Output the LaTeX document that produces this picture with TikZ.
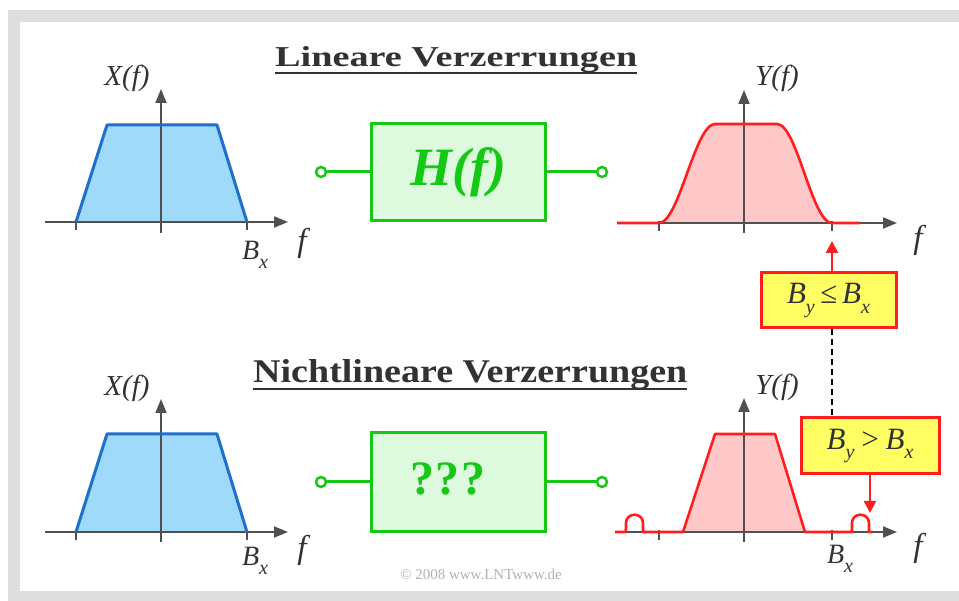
\documentclass[tikz,border=0pt]{standalone}
\usepackage{fontspec}
\setmainfont{Liberation Serif}
\usepackage{graphicx}
\usetikzlibrary{arrows.meta}
\definecolor{axisgray}{RGB}{80,80,80}
\definecolor{txtgray}{RGB}{50,50,50}
\definecolor{bline}{RGB}{30,112,204}
\definecolor{bfill}{RGB}{160,218,250}
\definecolor{rline}{RGB}{255,30,30}
\definecolor{rfill}{RGB}{255,200,200}
\definecolor{gline}{RGB}{20,200,20}
\definecolor{gfill}{RGB}{222,250,222}
\definecolor{ybox}{RGB}{255,255,100}
\definecolor{framegray}{RGB}{222,222,222}
\tikzset{
  axis/.style={draw=axisgray,line width=2pt,-{Triangle[length=14pt,width=11pt]}},
  tickmark/.style={draw=axisgray,line width=1.6pt},
  vaxis/.style={draw=axisgray,line width=2pt,-{Triangle[length=14pt,width=11pt]}},
  bcurve/.style={draw=bline,line width=3pt,line join=round},
  rcurve/.style={draw=rline,line width=2.6pt,line join=round},
  lbl/.style={inner sep=0pt,text=txtgray,font=\fontsize{29}{30}\selectfont\itshape},
  flbl/.style={inner sep=0pt,text=txtgray,font=\fontsize{33}{34}\selectfont\itshape},
  bxlbl/.style={inner sep=0pt,text=txtgray,font=\fontsize{28}{30}\selectfont\itshape},
  gbox/.style={draw=gline,fill=gfill,line width=3pt,minimum width=174pt,minimum height=97pt,inner sep=0pt,text=gline},
  term/.style={circle,draw=gline,fill=white,line width=2.5pt,minimum size=10pt,inner sep=0pt},
  gwire/.style={draw=gline,line width=3pt},
  ybx/.style={draw=rline,fill=ybox,line width=3pt,inner sep=0pt,text=txtgray,font=\fontsize{31}{32}\selectfont\itshape},
  rarrow/.style={draw=rline,line width=2.5pt,-{Triangle[length=12pt,width=12pt]}},
  titl/.style={inner sep=0pt,anchor=base west,text=txtgray},
  uline/.style={draw=txtgray,line width=2.2pt},
}
\newcommand{\Bsub}[1]{B\raisebox{-0.3em}{\fontsize{20}{20}\selectfont #1}}
\begin{document}
\begin{tikzpicture}[x=1pt,y=-1pt]
\useasboundingbox (0,0) rectangle (959,601);
\fill[white] (0,0) rectangle (959,601);
\fill[framegray] (8,10) rectangle (959,601);
\fill[white] (20,22) rectangle (959,591);

% titles
\node[titl] (t1) at (275,67) {\resizebox{362pt}{20pt}{\bfseries Lineare Verzerrungen}};
\draw[uline] ([yshift=-6pt]t1.base west) -- ([yshift=-6pt]t1.base east);
\node[titl] (t2) at (253,383) {\resizebox{434pt}{23pt}{\bfseries Nichtlineare Verzerrungen}};
\draw[uline] ([yshift=-6pt]t2.base west) -- ([yshift=-6pt]t2.base east);

% ===== top left X(f)
\fill[bfill] (76,222) -- (107,125) -- (217,125) -- (247,222) -- cycle;
\draw[axis] (45,222) -- (288,222);
\draw[vaxis] (161,233) -- (161,89);
\draw[tickmark] (76,220) -- (76,230);
\draw[tickmark] (247,220) -- (247,230);
\draw[bcurve] (76,222) -- (107,125) -- (217,125) -- (247,222);
\node[lbl] (xl1) at (127,78) {X(f)};
\node[flbl] (fl1) at (302,243) {f};
\node[bxlbl] (bx1) at (255,255) {\Bsub{x}};

% ===== bottom left X(f)
\fill[bfill] (76,532) -- (107,434) -- (217,434) -- (247,532) -- cycle;
\draw[axis] (45,532) -- (288,532);
\draw[vaxis] (161,542) -- (161,399);
\draw[tickmark] (76,530) -- (76,540);
\draw[tickmark] (247,530) -- (247,540);
\draw[bcurve] (76,532) -- (107,434) -- (217,434) -- (247,532);
\node[lbl] (xl2) at (127,388) {X(f)};
\node[flbl] (fl2) at (302,550) {f};
\node[bxlbl] (bx2) at (255,561) {\Bsub{x}};

% ===== green blocks
\node[gbox,font=\fontsize{54}{56}\selectfont\bfseries\itshape] (h1) at (458,172) {H(f)};
\node[term] (i1) at (321,172) {};
\node[term] (o1) at (602,172) {};
\draw[gwire] (i1) -- (h1.west);
\draw[gwire] (h1.east) -- (o1);

\node[gbox,minimum height=98pt] (h2) at (458,482) {};
\node[inner sep=0pt,text=gline,font=\fontsize{48}{50}\selectfont\bfseries] (q2) at ([xshift=-10pt,yshift=3pt]h2.center) {?\kern2pt?\kern2pt?};
\node[term] (i2) at (321,482) {};
\node[term] (o2) at (602,482) {};
\draw[gwire] (i2) -- (h2.west);
\draw[gwire] (h2.east) -- (o2);

% ===== top right Y(f)
\fill[rfill] (659,223) .. controls (679,223) and (695,124) .. (715,124) -- (777,124)
   .. controls (797,124) and (812,223) .. (832,223) -- cycle;
\draw[axis] (617,223) -- (897,223);
\draw[vaxis] (744,233) -- (744,90);
\draw[tickmark] (659,221) -- (659,231);
\draw[tickmark] (832,221) -- (832,231);
\draw[rcurve] (617,223) -- (659,223) .. controls (679,223) and (695,124) .. (715,124) -- (777,124)
   .. controls (797,124) and (812,223) .. (832,223) -- (860,223);
\node[lbl] (yl1) at (777,78) {Y(f)};
\node[flbl] (fl3) at (918,240) {f};

% ===== bottom right Y(f)
\fill[rfill] (683,532) -- (715,434) -- (775,434) -- (805,532) -- cycle;
\draw[axis] (615,532) -- (897,532);
\draw[vaxis] (744,542) -- (744,398);
\draw[tickmark] (659,530) -- (659,540);
\draw[tickmark] (832,530) -- (832,540);
\draw[rcurve] (615,532) -- (626,532) -- (626,523) .. controls (626,512) and (643,512) .. (643,523)
   -- (643,532) -- (683,532) -- (715,434) -- (775,434) -- (805,532) -- (852,532) -- (852,523)
   .. controls (852,512) and (869,512) .. (869,523) -- (869,532) -- (872,532);
\node[lbl] (yl2) at (777,387) {Y(f)};
\node[flbl] (fl4) at (918,548) {f};
\node[bxlbl] (bx3) at (840,559) {\Bsub{x}};

% ===== comparison boxes
\node[ybx,minimum width=135pt,minimum height=55pt] (c1) at (828.5,300.5) {\Bsub{y}\,≤\,\Bsub{x}};
\node[ybx,minimum width=138pt,minimum height=56pt] (c2) at (870,446) {\Bsub{y}\,>\,\Bsub{x}};
\coordinate (ta) at (832,241);
\coordinate (tb) at (870,513);
\draw[rarrow] (c1.north -| ta) -- (ta);
\draw[rarrow] (c2.south -| tb) -- (tb);
\draw[black,line width=1.3pt,dash pattern=on 6pt off 4pt] (c1.south -| ta) -- (c2.north -| ta);

% copyright
\node[inner sep=0pt,text=gray!60,font=\fontsize{15}{16}\selectfont] (cp) at (481,574) {© 2008 www.LNTwww.de};
\end{tikzpicture}
\end{document}
